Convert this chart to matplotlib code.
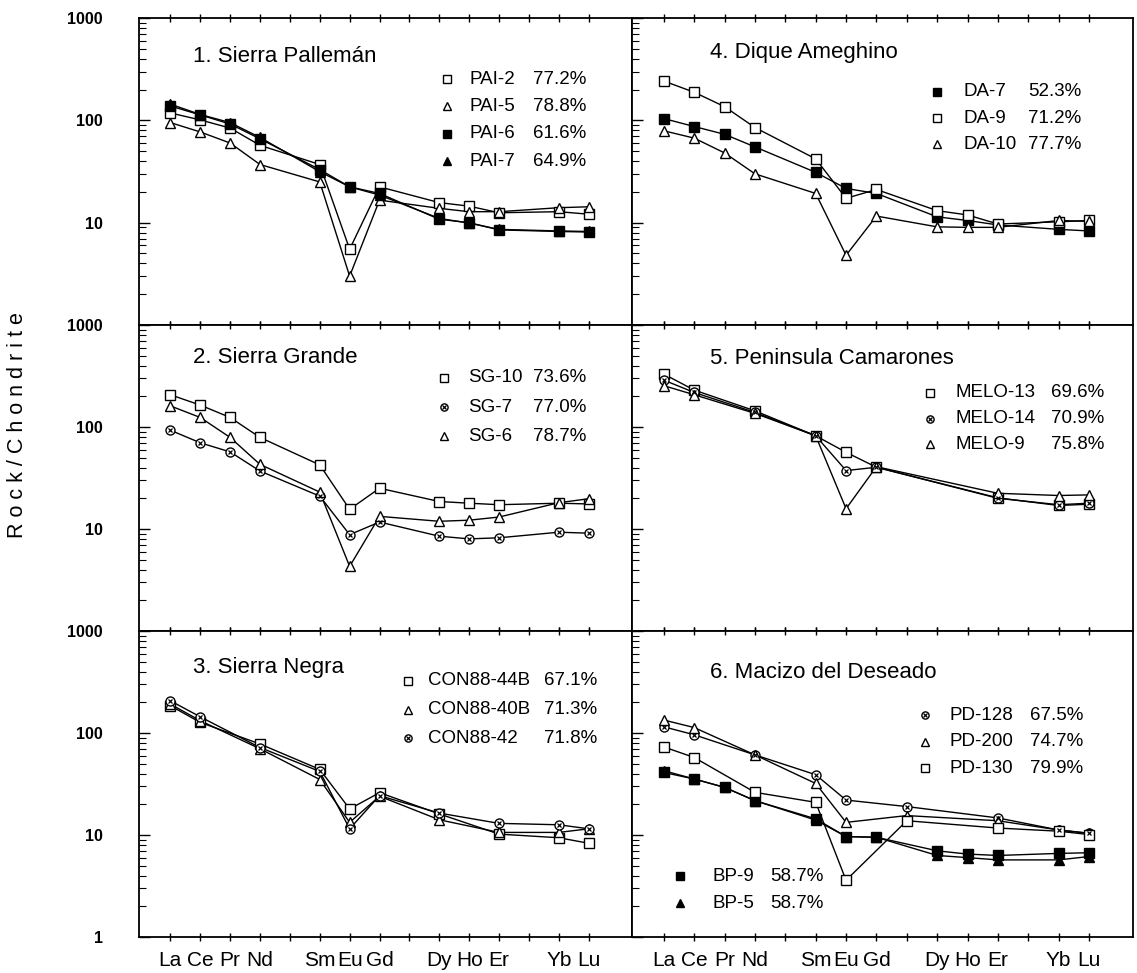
import matplotlib
matplotlib.use("Agg")
import matplotlib.pyplot as plt
from matplotlib.ticker import LogLocator, NullFormatter

plt.rcParams['font.family'] = ['Liberation Sans', 'DejaVu Sans']

# ---------------------------------------------------------------------------
# data (chondrite normalised REE)
REE = ['La', 'Ce', 'Pr', 'Nd', 'Pm', 'Sm', 'Eu', 'Gd', 'Tb', 'Dy', 'Ho', 'Er', 'Tm', 'Yb', 'Lu']
tickLabels = ['La', 'Ce', 'Pr', 'Nd', '', 'Sm', 'Eu', 'Gd', '', 'Dy', 'Ho', 'Er', '', 'Yb', 'Lu']

full12 = ['La', 'Ce', 'Pr', 'Nd', 'Sm', 'Eu', 'Gd', 'Dy', 'Ho', 'Er', 'Yb', 'Lu']
melo_el = ['La', 'Ce', 'Nd', 'Sm', 'Eu', 'Gd', 'Er', 'Yb', 'Lu']
con_el = ['La', 'Ce', 'Nd', 'Sm', 'Eu', 'Gd', 'Dy', 'Er', 'Yb', 'Lu']
pd_el = ['La', 'Ce', 'Nd', 'Sm', 'Eu', 'Tb', 'Er', 'Yb', 'Lu']

# 1. Sierra Pailemán
pai2 = [118, 101, 84, 57, 37, 5.5, 22.4, 15.7, 14.5, 12.5, 12.8, 12.1]
pai5 = [95, 77, 60, 37, 25, 3.0, 16.6, 13.8, 12.8, 12.8, 14.0, 14.3]
pai6 = [138, 113, 92, 66, 33, 22.4, 19.3, 10.8, 10.0, 8.5, 8.2, 8.1]
pai7 = [144, 114, 95, 68, 31.5, 22.4, 18.6, 11.0, 9.9, 8.6, 8.3, 8.2]

# 2. Sierra Grande
sg10 = [207, 164, 124, 79, 42.5, 15.6, 25.1, 18.6, 17.9, 17.3, 17.9, 17.6]
sg7 = [93, 70, 57, 37, 21, 8.8, 11.7, 8.5, 8.0, 8.2, 9.3, 9.1]
sg6 = [161, 124, 79, 43, 23, 4.3, 13.3, 11.9, 12.2, 13.1, 18.1, 19.8]

# 3. Sierra Negra
con44b = [185, 127, 78, 44, 18, 26, 16.1, 10.2, 9.4, 8.3]
con40b = [192, 132, 70, 35, 13.3, 24, 14.1, 10.6, 10.6, 11.5]
con42 = [207, 144, 72, 42, 11.5, 24.3, 16.4, 13.0, 12.6, 11.5]

# 4. Dique Ameghino
da7 = [104, 87, 73, 55, 31, 21.6, 19.3, 11.4, 10.5, 9.5, 8.6, 8.3]
da9 = [242, 188, 136, 85, 42, 17.3, 21.1, 13.1, 11.9, 9.7, 10.2, 10.5]
da10 = [79, 67, 48, 30, 19.3, 4.8, 11.6, 9.1, 9.0, 9.0, 10.5, 10.3]

# 5. Peninsula Camarones
melo13 = [330, 230, 144, 82, 56.5, 40.3, 20.2, 17.0, 17.5]
melo14 = [288, 218, 139, 82, 37.4, 40.3, 20.0, 17.3, 17.9]
melo9 = [254, 207, 136, 82, 15.8, 40.8, 22.4, 21.3, 21.6]

# 6. Macizo del Deseado
bp9 = [41, 35.4, 29.3, 21.7, 14.4, 9.65, 9.5, 7.0, 6.5, 6.3, 6.6, 6.7]
bp5 = [42.7, 35.4, 29.3, 21.7, 14.0, 9.65, 9.5, 6.3, 6.0, 5.7, 5.7, 6.15]
pd128 = [115, 96, 61, 39, 22, 19, 14.7, 11.2, 10.4]
pd200 = [134, 113, 61, 32, 13.3, 15.5, 13.8, 11.2, 10.4]
pd130 = [73, 57.5, 26.2, 20.9, 3.6, 13.8, 11.7, 10.9, 10.1]

# ---------------------------------------------------------------------------
STYLES = {
    'sq_open': dict(marker='s', mfc='white', mec='black', ms=6.5),
    'sq_fill': dict(marker='s', mfc='black', mec='black', ms=6.5),
    'tri_open': dict(marker='^', mfc='white', mec='black', ms=7),
    'tri_fill': dict(marker='^', mfc='black', mec='black', ms=7),
    'circ_x': dict(marker='o', mfc='white', mec='black', ms=6.5),
}

# panel: (col, row, title, title pos, series, legends)
# legend: (marker x, name x, pct x, first row y, row step, entries)
panels = [
    (0, 0, '1. Sierra Pallemán', (0.110, 0.876),
     [(full12, pai2, 'sq_open'), (full12, pai5, 'tri_open'),
      (full12, pai6, 'sq_fill'), (full12, pai7, 'tri_fill')],
     [(0.625, 0.671, 0.799, 0.801, 0.089,
       [('sq_open', 'PAI-2', '77.2%'), ('tri_open', 'PAI-5', '78.8%'),
        ('sq_fill', 'PAI-6', '61.6%'), ('tri_fill', 'PAI-7', '64.9%')])]),
    (0, 1, '2. Sierra Grande', (0.110, 0.895),
     [(full12, sg10, 'sq_open'), (full12, sg7, 'circ_x'), (full12, sg6, 'tri_open')],
     [(0.619, 0.667, 0.799, 0.827, 0.095,
       [('sq_open', 'SG-10', '73.6%'), ('circ_x', 'SG-7', '77.0%'),
        ('tri_open', 'SG-6', '78.7%')])]),
    (0, 2, '3. Sierra Negra', (0.110, 0.882),
     [(con_el, con44b, 'sq_open'), (con_el, con40b, 'tri_open'), (con_el, con42, 'circ_x')],
     [(0.546, 0.586, 0.821, 0.837, 0.094,
       [('sq_open', 'CON88-44B', '67.1%'), ('tri_open', 'CON88-40B', '71.3%'),
        ('circ_x', 'CON88-42', '71.8%')])]),
    (1, 0, '4. Dique Ameghino', (0.156, 0.886),
     [(full12, da7, 'sq_fill'), (full12, da9, 'sq_open'), (full12, da10, 'tri_open')],
     [(0.609, 0.661, 0.790, 0.759, 0.085,
       [('sq_fill', 'DA-7', '52.3%'), ('sq_open', 'DA-9', '71.2%'),
        ('tri_open', 'DA-10', '77.7%')])]),
    (1, 1, '5. Peninsula Camarones', (0.156, 0.892),
     [(melo_el, melo13, 'sq_open'), (melo_el, melo14, 'circ_x'), (melo_el, melo9, 'tri_open')],
     [(0.595, 0.645, 0.836, 0.778, 0.084,
       [('sq_open', 'MELO-13', '69.6%'), ('circ_x', 'MELO-14', '70.9%'),
        ('tri_open', 'MELO-9', '75.8%')])]),
    (1, 2, '6. Macizo del Deseado', (0.156, 0.863),
     [(full12, bp9, 'sq_fill'), (full12, bp5, 'tri_fill'),
      (pd_el, pd128, 'circ_x'), (pd_el, pd200, 'tri_open'), (pd_el, pd130, 'sq_open')],
     [(0.585, 0.633, 0.794, 0.725, 0.087,
       [('circ_x', 'PD-128', '67.5%'), ('tri_open', 'PD-200', '74.7%'),
        ('sq_open', 'PD-130', '79.9%')]),
      (0.096, 0.160, 0.275, 0.199, 0.088,
       [('sq_fill', 'BP-9', '58.7%'), ('tri_fill', 'BP-5', '58.7%')])]),
]

W, H = 1137.0, 973.0
colX = [(139, 632), (632, 1133)]
rowY = [(18, 325), (325, 631), (631, 937)]


def draw_marker(ax, x, y, key, transform=None, scale=1.0):
    st = dict(STYLES[key])
    st['ms'] = st['ms'] * scale
    kw = {} if transform is None else dict(transform=transform, clip_on=False)
    ax.plot(x, y, linestyle='none', mew=1.0, zorder=4, **st, **kw)
    if key == 'circ_x':
        ax.plot(x, y, linestyle='none', marker='x', ms=st['ms'] * 0.45, mew=0.9,
                color='black', zorder=5, **kw)


fig = plt.figure(figsize=(11.37, 9.73), dpi=100)

for col, row, title, tpos, series, legends in panels:
    x0, x1 = colX[col]
    y0, y1 = rowY[row]
    ax = fig.add_axes([x0 / W, 1 - y1 / H, (x1 - x0) / W, (y1 - y0) / H])

    for elements, values, key in series:
        xs = [57 + REE.index(e) for e in elements]
        ax.plot(xs, values, color='black', linewidth=1.0, zorder=3)
        draw_marker(ax, xs, values, key)

    ax.set_yscale('log')
    ax.set_ylim(1, 1000)
    ax.set_xlim(55.95, 72.45)

    # x ticks
    ax.set_xticks(range(57, 72))
    ax.tick_params(axis='x', which='both', direction='inout', length=6, width=1.0,
                   top=True, bottom=True)
    if row == 2:
        ax.set_xticklabels(tickLabels, fontsize=15)
        ax.tick_params(axis='x', pad=7)
    else:
        ax.set_xticklabels([])

    # y ticks
    ax.yaxis.set_major_locator(LogLocator(base=10, numticks=10))
    ax.yaxis.set_minor_locator(LogLocator(base=10, subs=range(2, 10), numticks=20))
    ax.yaxis.set_minor_formatter(NullFormatter())
    ax.tick_params(axis='y', which='major', direction='in', length=8, width=1.0)
    ax.tick_params(axis='y', which='minor', direction='in', length=5, width=0.8)
    ax.set_yticks([1, 10, 100, 1000])
    if col == 0:
        ax.set_yticklabels(['1' if row == 2 else '', '10', '100', '1000'],
                           fontsize=11.5, fontweight='bold')
        ax.tick_params(axis='y', pad=26)
    else:
        ax.set_yticklabels([])

    for sp in ax.spines.values():
        sp.set_linewidth(1.3)

    ax.text(tpos[0], tpos[1], title, transform=ax.transAxes, fontsize=16,
            ha='left', va='center')

    for mx, nx, px, ly, step, entries in legends:
        for i, (key, name, pct) in enumerate(entries):
            yy = ly - i * step
            draw_marker(ax, [mx], [yy], key, transform=ax.transAxes, scale=0.8)
            ax.text(nx, yy, name, transform=ax.transAxes, fontsize=13.5,
                    ha='left', va='center')
            ax.text(px, yy, pct, transform=ax.transAxes, fontsize=13.5,
                    ha='left', va='center')

fig.text(18 / W, 1 - 425 / H, ' '.join('Rock/Chondrite'), rotation=90,
         fontsize=15.5, ha='center', va='center')

fig.savefig('out.png', dpi=100)
